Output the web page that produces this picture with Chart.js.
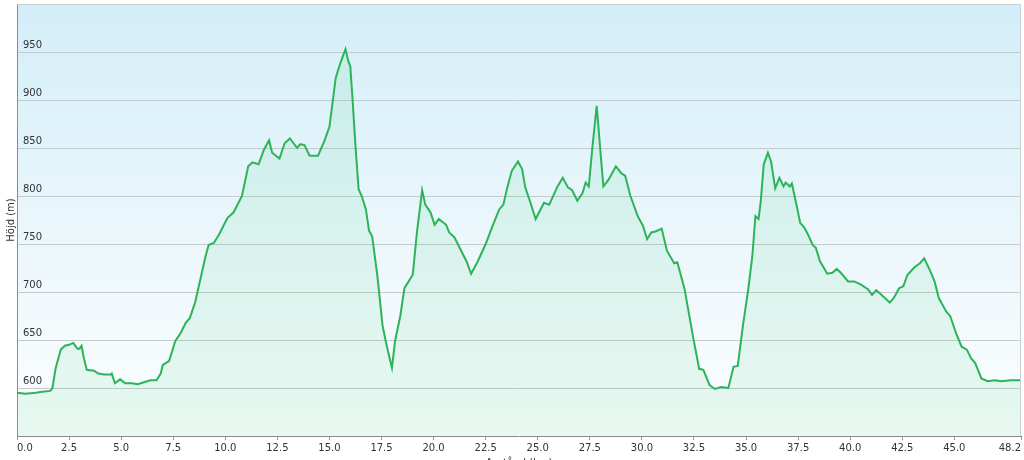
<!DOCTYPE html>
<html>
<head>
<meta charset="utf-8">
<script src="https://cdn.jsdelivr.net/npm/chart.js@4/dist/chart.umd.min.js"></script>
<style>
  html, body { margin: 0; padding: 0; background: #ffffff; overflow: hidden; }
  #wrap { position: relative; width: 1024px; height: 470px; }
</style>
</head>
<body>
<div id="wrap"><canvas id="c"></canvas></div>
<script>
// Distance along the route (km)
const distKm = [
  0.0, 0.4, 0.9, 1.2, 1.6, 1.7, 1.85, 2.1, 2.3, 2.5, 2.7, 2.9, 3.0, 3.1, 3.2, 3.35, 3.7, 3.9, 4.2, 4.5,
  4.55, 4.7, 4.95, 5.2, 5.5, 5.8, 6.1, 6.4, 6.7, 6.9, 7.0, 7.3, 7.6, 7.85, 8.1, 8.3, 8.55, 8.8, 9.05, 9.2,
  9.45, 9.7, 10.1, 10.4, 10.8, 11.1, 11.3, 11.6, 11.85, 12.1, 12.25, 12.6, 12.85, 13.1, 13.45, 13.6, 13.8, 14.05, 14.45, 14.75,
  15.0, 15.3, 15.5, 15.65, 15.77, 15.9, 16.0, 16.1, 16.25, 16.4, 16.55, 16.75, 16.9, 17.05, 17.3, 17.55, 17.7, 17.9, 18.0, 18.15,
  18.4, 18.6, 19.0, 19.2, 19.45, 19.6, 19.85, 20.05, 20.25, 20.6, 20.75, 21.0, 21.3, 21.6, 21.8, 22.1, 22.5, 22.8, 23.15, 23.35,
  23.55, 23.75, 24.05, 24.25, 24.4, 24.65, 24.9, 25.3, 25.55, 25.95, 26.2, 26.45, 26.65, 26.9, 27.15, 27.3, 27.45, 27.62, 27.83, 27.98,
  28.15, 28.4, 28.75, 29.0, 29.2, 29.45, 29.8, 30.05, 30.25, 30.45, 30.65, 30.95, 31.2, 31.55, 31.7, 32.05, 32.45, 32.75, 32.95, 33.25,
  33.5, 33.8, 34.15, 34.4, 34.6, 34.85, 35.1, 35.3, 35.45, 35.6, 35.7, 35.85, 36.05, 36.2, 36.4, 36.6, 36.8, 36.9, 37.1, 37.2,
  37.4, 37.6, 37.8, 37.95, 38.2, 38.35, 38.55, 38.9, 39.15, 39.35, 39.55, 39.9, 40.2, 40.5, 40.85, 41.05, 41.25, 41.55, 41.9, 42.1,
  42.35, 42.55, 42.75, 43.1, 43.35, 43.55, 43.8, 44.05, 44.25, 44.6, 44.8, 45.1, 45.35, 45.6, 45.8, 46.0, 46.3, 46.6, 46.95, 47.25,
  47.7, 48.2
];
// Elevation (m)
const elevM = [
  595, 594, 595, 596, 597, 600, 620, 640, 644, 645, 647, 641, 641, 644, 632, 619, 618, 615, 614, 614,
  615, 605, 609, 605, 605, 604, 606, 608, 608, 615, 624, 628, 649, 657, 668, 673, 689, 713, 737, 749,
  751, 760, 777, 783, 800, 831, 835, 833, 848, 858, 845, 839, 855, 860, 850, 854, 853, 842, 842, 857,
  872, 923, 937, 946, 953, 941, 935, 904, 852, 807, 800, 786, 764, 758, 717, 665, 649, 630, 621, 649,
  675, 704, 718, 762, 806, 791, 783, 770, 776, 770, 762, 757, 744, 731, 719, 731, 750, 767, 786, 791,
  810, 826, 836, 828, 809, 793, 776, 793, 791, 810, 819, 809, 806, 795, 803, 814, 810, 850, 894, 854,
  810, 817, 831, 824, 821, 800, 779, 769, 755, 762, 763, 766, 743, 730, 731, 703, 654, 620, 619, 603,
  599, 601, 600, 622, 623, 665, 702, 737, 779, 776, 793, 833, 845, 836, 808, 819, 810, 814, 810, 813,
  793, 772, 767, 761, 749, 746, 732, 719, 720, 724, 720, 711, 711, 708, 703, 697, 702, 696, 689, 694,
  704, 706, 718, 726, 730, 735, 724, 711, 694, 680, 675, 656, 643, 640, 631, 626, 610, 607, 608, 607,
  608, 608
];
// X tick values (km)
const xTicks = [0, 2.5, 5, 7.5, 10, 12.5, 15, 17.5, 20, 22.5, 25, 27.5, 30, 32.5, 35, 37.5, 40, 42.5, 45, 48.2];
// Y tick range (m)
const yMin = 550, yMax = 1000, yStep = 50;
const yHiddenLabels = [550, 1000];

const points = distKm.map((d, i) => ({ x: d, y: elevM[i] }));

const bgPlugin = {
  id: 'bgPlugin',
  beforeDraw(chart) {
    const { ctx, chartArea: a } = chart;
    const g = ctx.createLinearGradient(0, a.top, 0, a.bottom);
    g.addColorStop(0, '#d3eef9');
    g.addColorStop(0.6, '#eef8fc');
    g.addColorStop(1, '#fbfdfe');
    ctx.save();
    ctx.fillStyle = g;
    ctx.fillRect(a.left, a.top, a.right - a.left, a.bottom - a.top);
    ctx.restore();
  },
  afterDraw(chart) {
    const { ctx, chartArea: a } = chart;
    ctx.save();
    ctx.strokeStyle = '#c8cdd0';
    ctx.lineWidth = 1;
    ctx.beginPath();
    ctx.moveTo(a.left, a.top + 0.5);
    ctx.lineTo(a.right - 0.5, a.top + 0.5);
    ctx.lineTo(a.right - 0.5, a.bottom);
    ctx.stroke();
    ctx.restore();
  }
};

new Chart(document.getElementById('c'), {
  type: 'line',
  data: {
    datasets: [{
      data: points,
      borderColor: '#2db35a',
      borderWidth: 2,
      backgroundColor: 'rgba(60, 210, 120, 0.10)',
      fill: 'start',
      pointRadius: 0,
      tension: 0
    }]
  },
  options: {
    responsive: true,
    maintainAspectRatio: false,
    animation: false,
    layout: { padding: { top: 4, right: 3, left: 0, bottom: 0 } },
    plugins: { legend: { display: false }, tooltip: { enabled: false } },
    scales: {
      x: {
        type: 'linear',
        min: 0,
        max: 48.2,
        afterBuildTicks(scale) { scale.ticks = xTicks.map(v => ({ value: v })); },
        afterFit(scale) { scale.height = 34; scale.paddingLeft = 0; scale.paddingRight = 0; },
        ticks: {
          align: 'inner',
          maxRotation: 0,
          autoSkip: false,
          padding: 2,
          color: '#333333',
          font: { family: 'DejaVu Sans', size: 10 },
          callback: v => Number(v).toFixed(1)
        },
        grid: { drawOnChartArea: false, drawTicks: true, tickLength: 4, color: '#999999' },
        border: { color: '#8a8a8a', width: 1 },
        title: {
          display: true,
          text: 'Avstånd (km)',
          color: '#333333',
          font: { family: 'DejaVu Sans', size: 10 },
          padding: { top: 0, bottom: 1 }
        }
      },
      y: {
        min: yMin,
        max: yMax,
        afterFit(scale) { scale.width = 17; scale.paddingTop = 0; scale.paddingBottom = 0; },
        ticks: {
          stepSize: yStep,
          mirror: true,
          padding: 6,
          labelOffset: -7,
          color: '#333333',
          font: { family: 'DejaVu Sans', size: 10 },
          callback: v => yHiddenLabels.includes(v) ? null : String(v)
        },
        grid: { drawTicks: false, color: '#c5cacd', lineWidth: 1 },
        border: { color: '#8a8a8a', width: 1 },
        title: {
          display: true,
          text: 'Höjd (m)',
          color: '#333333',
          font: { family: 'DejaVu Sans', size: 10 },
          padding: { top: 5, bottom: 0 }
        }
      }
    }
  },
  plugins: [bgPlugin]
});
</script>
</body>
</html>
